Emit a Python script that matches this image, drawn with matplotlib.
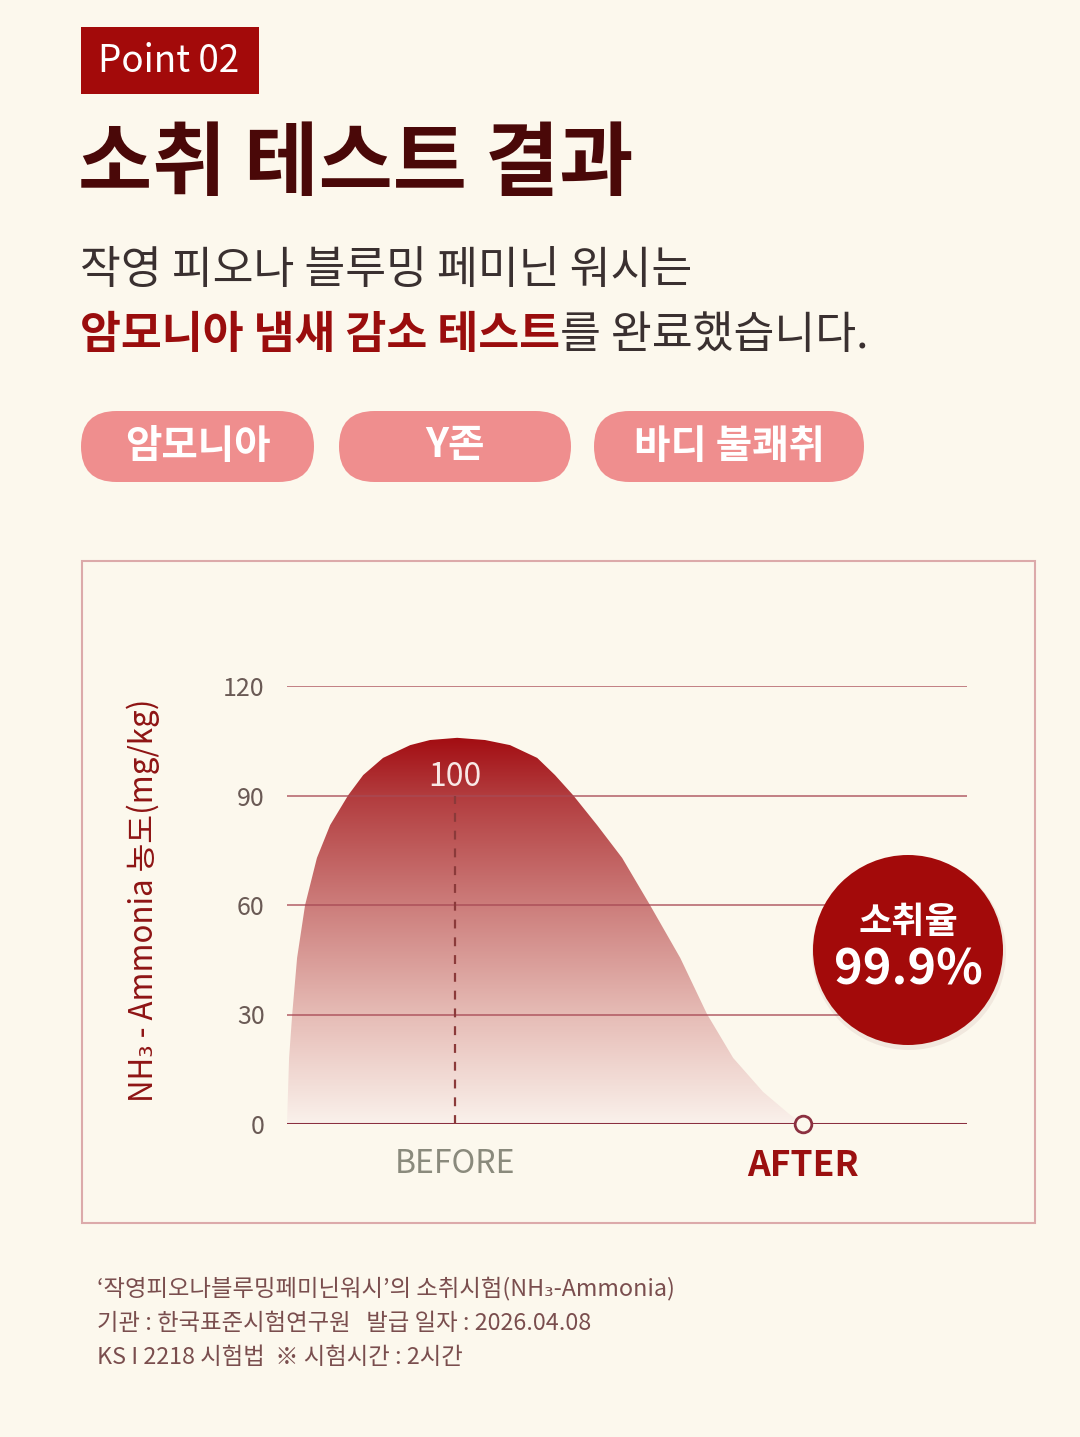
import numpy as np
import matplotlib.pyplot as plt
from matplotlib.patches import FancyBboxPatch, Rectangle, Circle
from matplotlib.colors import LinearSegmentedColormap

plt.rcParams['font.family'] = ['Noto Sans CJK KR', 'DejaVu Sans']

# ---- data ----
categories = ["BEFORE", "AFTER"]
values = [100, 0.1]
x_pos = [1, 2]
y_ticks = [0, 30, 60, 90, 120]
tags = ["암모니아", "Y존", "바디 불쾌취"]
removal_rate = "99.9%"

# outline of the decorative hump (x in category units, y in mg/kg)
curve_x = [0.517, 0.523, 0.532, 0.546, 0.569, 0.603, 0.641, 0.693, 0.736, 0.793,
           0.871, 0.928, 1.006, 1.086, 1.158, 1.236, 1.287, 1.339, 1.408, 1.480,
           1.560, 1.647, 1.724, 1.799, 1.885, 1.963, 2.0]
curve_y = [0, 18.1, 30.1, 45.5, 60.0, 72.9, 81.9, 90.1, 95.6, 100.3,
           103.8, 105.2, 105.8, 105.2, 103.8, 100.3, 95.6, 90.1, 81.9, 72.9,
           60.0, 45.5, 30.1, 18.1, 8.8, 2.5, 0]

footer = ["‘작영피오나블루밍페미닌워시’의 소취시험(NH₃-Ammonia)",
          "기관 : 한국표준시험연구원   발급 일자 : 2026.04.08",
          "KS I 2218 시험법  ※ 시험시간 : 2시간"]

bg_color = '#fcf8ed'
dark_red = '#a30a0a'

fig = plt.figure(figsize=(10.8, 14.37), dpi=100, facecolor=bg_color)

# background axes in pixel units (y downwards)
bg = fig.add_axes([0, 0, 1, 1])
bg.set_xlim(0, 1080)
bg.set_ylim(1437, 0)
bg.axis('off')
bg.patch.set_alpha(0)

# header
bg.add_patch(Rectangle((81, 27), 178, 67, facecolor=dark_red, edgecolor='none'))
bg.text(98, 62, "Point 02", color='white', fontsize=26.5, va='center', ha='left')
bg.text(78, 165, "소취 테스트 결과", color='#4a0808', fontsize=58, fontweight='bold',
        va='center', ha='left')
bg.text(80, 270, "작영 피오나 블루밍 페미닌 워시는", color='#3a3030', fontsize=32,
        va='center', ha='left')
t1 = bg.text(80, 335, "암모니아 냄새 감소 테스트", color='#9a0d0d', fontsize=32,
             fontweight='bold', va='center', ha='left')
renderer = fig.canvas.get_renderer()
x_end = t1.get_window_extent(renderer).x1
bg.text(x_end, 335, "를 완료했습니다.", color='#3a3030', fontsize=32,
        va='center', ha='left')

# tag pills
pill_boxes = [(81, 233), (339, 232), (594, 270)]
for tag, (px, pw) in zip(tags, pill_boxes):
    bg.add_patch(FancyBboxPatch((px, 411), pw, 71, boxstyle="round,pad=0,rounding_size=35.5",
                                facecolor='#ef8e8e', edgecolor='none'))
    bg.text(px + pw / 2, 446, tag, color='white', fontsize=28.5, fontweight='bold',
            va='center', ha='center')

# chart frame
bg.add_patch(Rectangle((82, 561), 953, 662, facecolor='none', edgecolor='#dcaaaa', lw=1.5))

# y label
bg.text(143, 900, "NH₃ - Ammonia 농도(mg/kg)", rotation=90, color='#8e1414',
        fontsize=22.5, va='center', ha='center')

# footer
for i, line in enumerate(footer):
    bg.text(97, 1288 + i * 35, line, color='#7a4e4e', fontsize=16.8, va='center', ha='left')

# ---- chart ----
ax = fig.add_axes([287 / 1080, (1437 - 1124) / 1437, 680 / 1080, 438 / 1437])
ax.patch.set_alpha(0)
for s in ax.spines.values():
    s.set_visible(False)

# gradient hump
cmap = LinearSegmentedColormap.from_list(
    'hump', [(0, '#faf1eb'), (0.28, '#e6bcb6'), (0.57, '#cc7c7a'),
             (0.85, '#b23c3e'), (1.0, '#a30d12')])
poly = ax.fill(curve_x, curve_y, facecolor='none', edgecolor='none')[0]
grad = np.linspace(0, 1, 256).reshape(-1, 1)
im = ax.imshow(grad, cmap=cmap, origin='lower', aspect='auto',
               extent=[min(curve_x), max(curve_x), 0, max(curve_y)], zorder=1)
im.set_clip_path(poly)
ax.set_xlim(0.517, 2.471)
ax.set_ylim(0, 120)

for yv in y_ticks[1:]:
    ax.axhline(yv, color='#a84a55', lw=1.3, alpha=0.75, zorder=2)
ax.axhline(0, color='#8b3040', lw=2.2, zorder=3)

ax.vlines(x_pos[0], 0, values[0] - 10, colors='#8b3a3a', linestyles=(0, (4, 4)),
          lw=1.6, zorder=3)
ax.text(x_pos[0], values[0] - 5, str(values[0]), color='#f8e8e6', fontsize=23,
        ha='center', va='center', zorder=4)
ax.plot([x_pos[1]], [values[1]], 'o', ms=12, mfc=bg_color, mec='#8b3040', mew=2,
        zorder=5, clip_on=False)

ax.set_yticks(y_ticks)
ax.tick_params(axis='y', length=0, pad=16, labelsize=18, labelcolor='#6a5a55')
ax.set_xticks(x_pos)
ax.set_xticklabels(categories)
ax.tick_params(axis='x', length=0, pad=17, labelsize=23)
xl = ax.get_xticklabels()
xl[0].set_color('#8a8a7c')
xl[1].set_color('#9b1010')
xl[1].set_fontweight('bold')
xl[1].set_fontsize(25.5)

# ---- badge on top ----
fg = fig.add_axes([0, 0, 1, 1])
fg.set_xlim(0, 1080)
fg.set_ylim(1437, 0)
fg.axis('off')
fg.patch.set_alpha(0)
fg.add_patch(Circle((909, 953), 97, facecolor='#6a2020', alpha=0.07, edgecolor='none'))
fg.add_patch(Circle((908, 950), 95, facecolor=dark_red, edgecolor='none'))
fg.text(908, 922, "소취율", color='white', fontsize=26, fontweight='bold',
        ha='center', va='center')
fg.text(908, 970, removal_rate, color='white', fontsize=35, fontweight='bold',
        ha='center', va='center')

fig.savefig('out.png', dpi=100, facecolor=bg_color)
